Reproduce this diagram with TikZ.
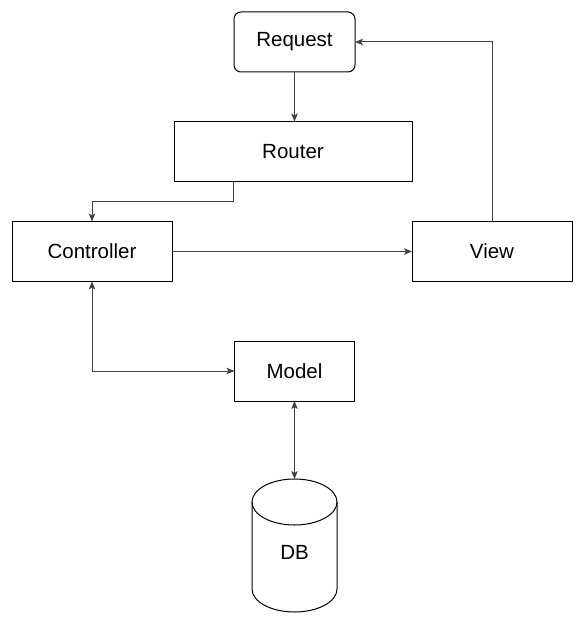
\documentclass[tikz,border=0pt]{standalone}
\usepackage{fontspec}
\setmainfont{Liberation Sans}
\usetikzlibrary{arrows.meta}

\begin{document}
\begin{tikzpicture}[x=1pt, y=-1pt,
  >={Stealth[length=8pt, width=6.5pt, inset=2pt]},
  box/.style={draw, black, line width=1pt, inner sep=0pt, outer sep=0pt,
    minimum height=60pt, font=\fontsize{20.5}{24}\selectfont},
  link/.style={black!75, line width=1pt, ->}]
\useasboundingbox (0,0) rectangle (583,623);
\node [box, rounded corners=7pt, minimum width=121pt] (req) at (294.5,42) {Request};
\node [box, minimum width=238pt] (router) at (293,151.5) {Router};
\node [box, minimum width=160pt] (ctrl) at (92,251.5) {Controller};
\node [box, minimum width=160pt] (view) at (492,251.5) {View};
\node [box, minimum width=120pt] (model) at (294.5,371) {Model};
\node [inner sep=0pt, minimum width=85pt, minimum height=133pt,
  font=\fontsize{20.5}{24}\selectfont] (db) at (294.5,552) {DB};
% cylinder for the database
\draw [black, line width=1pt] (294.5,502) ellipse [x radius=42.5pt, y radius=23pt];
\draw [black, line width=1pt] (252,502) -- (252,589)
  arc[x radius=42.5pt, y radius=23pt, start angle=180, end angle=360] -- (337,502);
% connectors
\coordinate (rc) at (233,201);
\draw [link] (req.south) -- (req.south |- router.north);
\draw [link] (rc |- router.south) -- (rc) -| (ctrl.north);
\draw [link] (ctrl.east) -- (view.west);
\draw [link] (view.north) |- (req.east);
\draw [link, <->] (ctrl.south) |- (model.west);
\draw [link, <->] (model.south) -- (model.south |- 0,479);
\end{tikzpicture}
\end{document}
